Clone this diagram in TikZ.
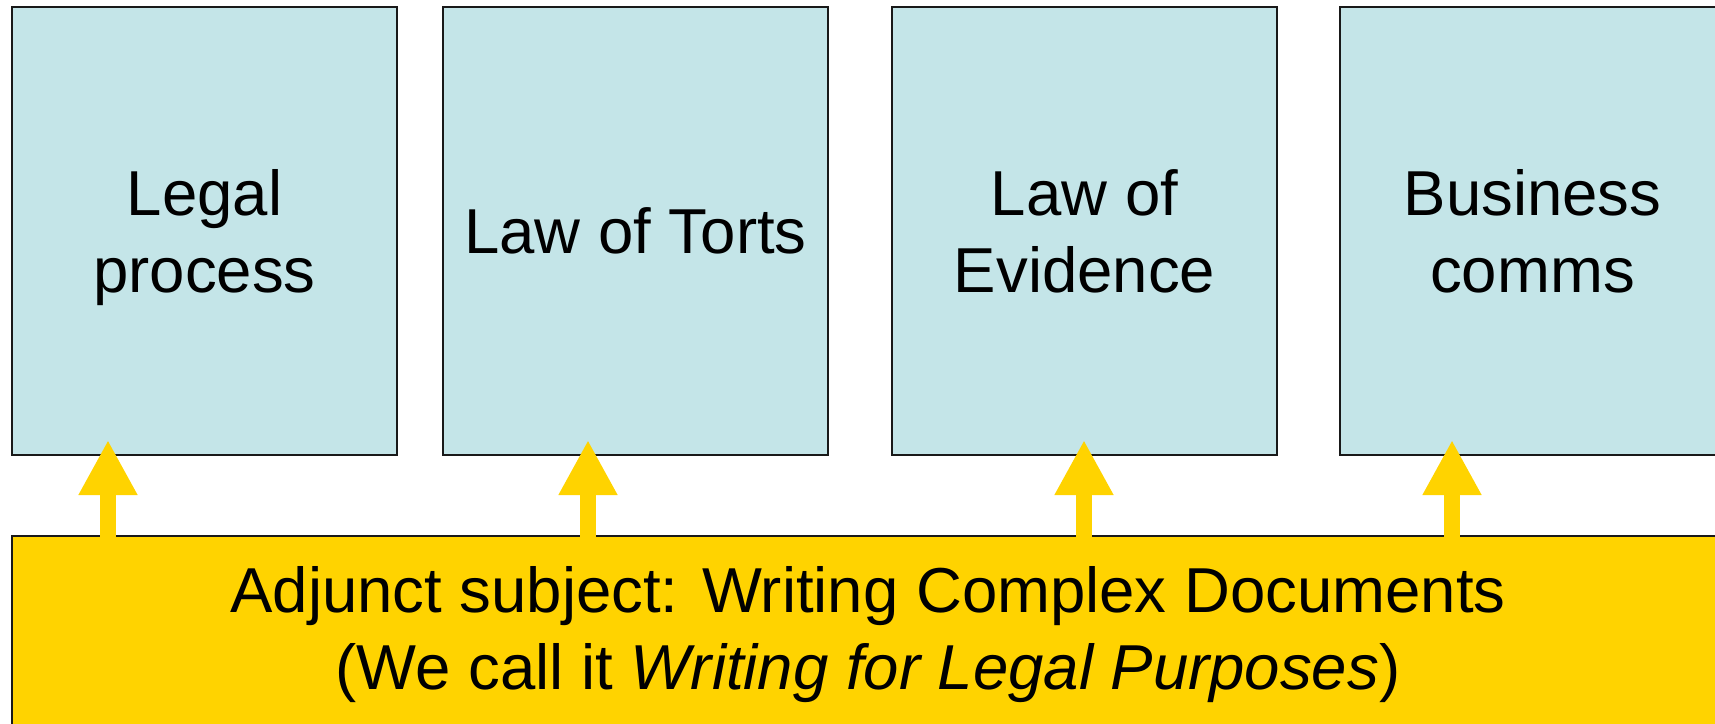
\documentclass[tikz,border=0pt]{standalone}
\usepackage{fontspec}
\setmainfont{Liberation Sans}
\usepackage{xcolor}
\usepackage{tikz}
\usetikzlibrary{arrows.meta}
\usetikzlibrary{positioning}
\definecolor{subjblue}{RGB}{196,229,232}
\definecolor{adjgold}{RGB}{255,211,0}
\newcommand\bigtext{\fontsize{63.5}{77}\selectfont}
\tikzstyle{subj}=[draw=black!90,line width=1.8pt,fill=subjblue,anchor=north west,outer sep=0pt,
  minimum width=385pt,minimum height=448pt,inner sep=0pt,align=center,font=\bigtext]
\tikzstyle{adj}=[draw=black!90,line width=1.8pt,fill=adjgold,anchor=north west,outer sep=0pt,
  minimum width=1712pt,minimum height=198pt,inner sep=0pt,align=center,font=\bigtext]
\tikzstyle{feed}=[draw=adjgold,line width=16pt,shorten <=-3pt,
  -{Triangle[length=55pt,width=55pt]}]

\begin{document}
\begin{tikzpicture}[x=1pt,y=-1pt]
	\useasboundingbox (0,0) rectangle (1715,723);
	\node[subj] (lp) at (12,7) {Legal\\\smash{process}};
	\node[subj,right=46pt of lp.north east,anchor=north west] (torts) {Law of Torts};
	\node[subj,right=64pt of torts.north east,anchor=north west] (evid) {Law of\\Evidence};
	\node[subj,right=63pt of evid.north east,anchor=north west] (comms) {Business\\comms};
	\node[adj] (wcd) at (12,536) {Adjunct subject: Writing Complex Documents\\(We call it \textit{Writing for Legal Purposes})};
	% arrow tips sit a little inside the boxes above
	\coordinate (t1) at ([xshift=96pt,yshift=15pt]lp.south west);
	\coordinate (t2) at ([xshift=145pt,yshift=15pt]torts.south west);
	\coordinate (t3) at ([xshift=192pt,yshift=15pt]evid.south west);
	\coordinate (t4) at ([xshift=112pt,yshift=15pt]comms.south west);
	\foreach \t in {t1,t2,t3,t4}
		\draw[feed] (wcd.north -| \t) -- (\t);
\end{tikzpicture}
\end{document}
